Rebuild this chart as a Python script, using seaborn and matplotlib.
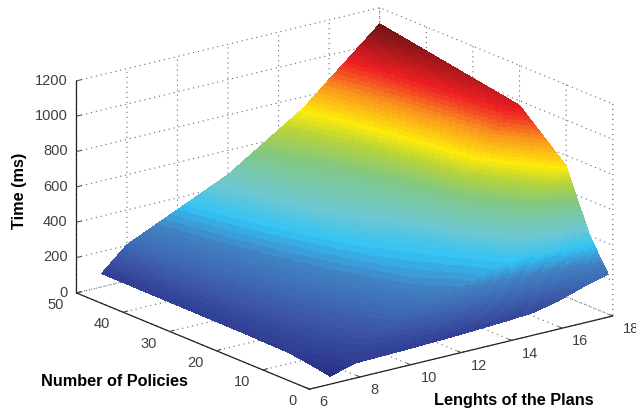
import numpy as np
import matplotlib
matplotlib.use('Agg')
import matplotlib.pyplot as plt
from matplotlib.colors import BoundaryNorm, ListedColormap
from matplotlib.transforms import ScaledTranslation
import seaborn as sns

# Values
plan_lengths = [7, 8, 10, 12, 14, 15, 16, 17, 18]
policies = [1, 5, 10, 20, 50]
time_p1 = [28, 68, 75, 85, 100, 110, 141, 187, 226]
time_p5 = [47, 85, 160, 240, 320, 350, 365, 365, 404]
time_p10 = [65, 105, 190, 285, 345, 385, 480, 600, 741]
time_p20 = [70, 130, 240, 330, 400, 510, 670, 830, 974]
time_p50 = [75, 204, 333, 462, 646, 738, 862, 985, 1109]

x_ticks = [6, 8, 10, 12, 14, 16, 18]
y_ticks = [0, 10, 20, 30, 40, 50]
z_ticks = [0, 200, 400, 600, 800, 1000, 1200]

cmap_stops = ['#262a82', '#3c55a5', '#4182c3', '#32c3f5', '#6ec8d2', '#82c882',
              '#b4d23c', '#fdeb0a', '#fa961e', '#ee1e24', '#6e1414']
cmap_pos = [0.0, 0.12, 0.24, 0.31, 0.38, 0.50, 0.58, 0.65, 0.75, 0.85, 1.0]

sns.set_theme(style='white')
plt.rcParams['font.family'] = ['Liberation Sans', 'DejaVu Sans']


def refine(xs, ys, zs, dx=0.05, dy=0.25):
    # Subdivide the measured grid so the coloured bands come out smooth
    fine_x = np.union1d(np.arange(xs[0], xs[-1] + dx / 2, dx), xs)
    fine_y = np.union1d(np.arange(ys[0], ys[-1] + dy / 2, dy), ys)
    rows = np.array([np.interp(fine_x, xs, row) for row in zs])
    fine_z = np.array([np.interp(fine_y, ys, col) for col in rows.T]).T
    return fine_x, fine_y, fine_z


# Stepped colormap, 64 bands like the original
grid = np.linspace(0, 1, 64)
band_colors = []
for g in grid:
    i = min(np.searchsorted(cmap_pos, g, side='right') - 1, len(cmap_pos) - 2)
    frac = (g - cmap_pos[i]) / (cmap_pos[i + 1] - cmap_pos[i])
    pair = sns.blend_palette([cmap_stops[i], cmap_stops[i + 1]], n_colors=101)
    band_colors.append(pair[int(round(frac * 100))])
cmap = ListedColormap(band_colors)
norm = BoundaryNorm(np.linspace(0, 1109, 65), 64)

times = np.array([time_p1, time_p5, time_p10, time_p20, time_p50])
fx, fy, fz = refine(plan_lengths, policies, times)
X, Y = np.meshgrid(fx, fy)

fig = plt.figure(figsize=(6.36, 4.12), dpi=100)
ax = fig.add_axes([21 / 636, 2 / 412, 1, 1], projection='3d')
ax.set_proj_type('ortho')
ax.view_init(elev=18.4, azim=-127.4)
ax.set_box_aspect((381, 383, 223), zoom=1.38)

surf = ax.plot_surface(X, Y, fz, facecolors=cmap(norm(fz)), rstride=1, cstride=1,
                       shade=False, linewidth=0, antialiased=False)
# the square axes box would otherwise cut the surface at the sides
surf.set_clip_on(False)

ax.set_xlim(6, 18)
ax.set_ylim(0, 50)
ax.set_zlim(0, 1200)
ax.set_xticks(x_ticks)
ax.set_yticks(y_ticks)
ax.set_zticks(z_ticks)
ax.tick_params(labelsize=10.5, colors='#404040')
ax.tick_params(axis='x', pad=-1.4)
ax.tick_params(axis='y', pad=-1.4)
ax.tick_params(axis='z', pad=-5.5)
plt.setp(ax.get_xticklabels(), ha='left', va='center')
plt.setp(ax.get_yticklabels(), ha='right', va='center')
plt.setp(ax.get_zticklabels(), ha='right', va='center')
for label in ax.get_zticklabels():
    label.set_transform(label.get_transform() + ScaledTranslation(0, 3 / 72, fig.dpi_scale_trans))

for axis in (ax.xaxis, ax.yaxis, ax.zaxis):
    axis.set_pane_color((1, 1, 1, 0))
    axis.pane.set_edgecolor((1, 1, 1, 0))
    axis.line.set_color('#202020')
    axis.line.set_linewidth(0.9)
    axis._axinfo['grid'].update(color='#666666', linestyle=(0, (1, 3.5)), linewidth=0.8)
    axis._axinfo['tick'].update(inward_factor=0.0, outward_factor=0.2,
                                linewidth={True: 0.7, False: 0.5}, color='#202020')
ax.grid(True)

fig.text(20 / 636, 1 - 191 / 412, 'Time (ms)', rotation=90, fontsize=11.7, fontweight='bold',
         color='black', va='center', ha='center')
fig.text(41 / 636, 1 - 381 / 412, 'Number of Policies', fontsize=11.7, fontweight='bold',
         color='black', va='center')
fig.text(434 / 636, 1 - 401 / 412, 'Lenghts of the Plans', fontsize=11.7, fontweight='bold',
         color='black', va='center')

fig.savefig('out.png', dpi=100)
